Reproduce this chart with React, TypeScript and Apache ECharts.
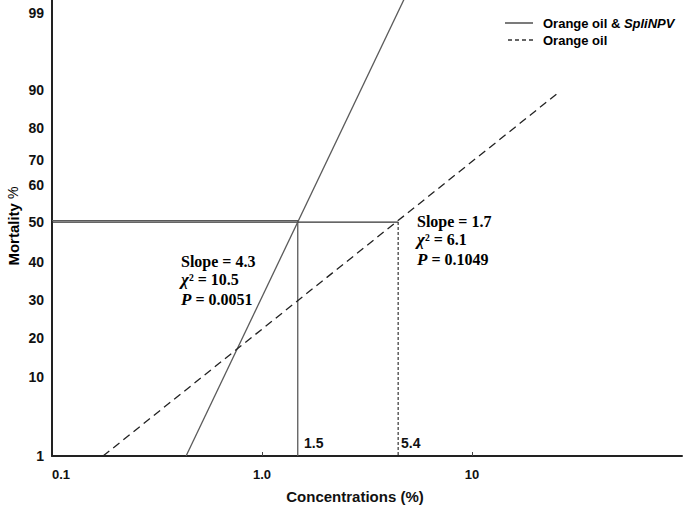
import React, { useEffect, useRef } from "react";
import * as echarts from "echarts";

// Mortality tick labels and their place on the reference's probit-like axis (fraction of axis height)
const mortalityTicks = [1, 10, 20, 30, 40, 50, 60, 70, 80, 90, 99];
const mortalityScale = [0, 0.173, 0.259, 0.342, 0.425, 0.513, 0.594, 0.649, 0.719, 0.803, 0.971];

// Concentration axis ticks
const concTicks = [0.1, 1, 10];
const concTickLabels = ["0.1", "1.0", "10"];

// Regression lines (concentration %, mortality %)
const comboConc = [0.435, 4.74];
const comboMort = [1, 100.6];
const oilConc = [0.175, 25.7];
const oilMort = [1, 89.2];

// LC50 drop lines
const lc50Conc = [1.48, 4.45];
const lc50Labels = ["1.5", "5.4"];

// Statistics
const comboStats = { slope: "4.3", chi2: "10.5", p: "0.0051" };
const oilStats = { slope: "1.7", chi2: "6.1", p: "0.1049" };

const seriesNames = ["Orange oil & SpliNPV", "Orange oil"];

function toScale(m: number): number {
  const t = mortalityTicks;
  const s = mortalityScale;
  let i = 0;
  if (m <= t[0]) i = 0;
  else if (m >= t[t.length - 1]) i = t.length - 2;
  else {
    while (i < t.length - 2 && m > t[i + 1]) i++;
  }
  const f = (m - t[i]) / (t[i + 1] - t[i]);
  return s[i] + f * (s[i + 1] - s[i]);
}

function fromScale(v: number): string {
  let best = 0;
  let bd = Infinity;
  mortalityScale.forEach((s, i) => {
    const d = Math.abs(s - v);
    if (d < bd) {
      bd = d;
      best = i;
    }
  });
  return String(mortalityTicks[best]);
}

const pts = (xs: number[], ms: number[]) => xs.map((x, i) => [x, toScale(ms[i])]);

const serifFont = "'Liberation Serif', 'DejaVu Serif', serif";
const sansFont = "'Liberation Sans', Arial, sans-serif";

function statBlock(st: { slope: string; chi2: string; p: string }, x: number, y: number) {
  const rich = {
    n: { fontFamily: serifFont, fontWeight: "bold", fontSize: 16, color: "#111" },
    i: { fontFamily: serifFont, fontWeight: "bold", fontStyle: "italic", fontSize: 17, color: "#111" },
  };
  return [
    { type: "text", x, y, style: { text: `{n|Slope = ${st.slope}}`, rich, verticalAlign: "middle" } },
    { type: "text", x, y: y + 18, style: { text: `{i|χ}{n|² = ${st.chi2}}`, rich, verticalAlign: "middle" } },
    { type: "text", x, y: y + 38, style: { text: `{i|P}{n| = ${st.p}}`, rich, verticalAlign: "middle" } },
  ];
}

export default function App() {
  const ref = useRef<HTMLDivElement>(null);
  useEffect(() => {
    if (!ref.current) return;
    const chart = echarts.init(ref.current, undefined, { renderer: "svg" });
    const lineGrey = "#5a5a5a";
    const legendRich = {
      b: { fontFamily: sansFont, fontWeight: "bold", fontSize: 13, color: "#111" },
      i: { fontFamily: sansFont, fontWeight: "bold", fontStyle: "italic", fontSize: 13, color: "#111" },
    };
    const option: any = {
      animation: false,
      backgroundColor: "#fff",
      grid: { left: 52, right: 3, top: 0, bottom: 50, containLabel: false, outerBoundsMode: "none" },
      xAxis: {
        type: "log",
        logBase: 10,
        min: 0.1,
        max: 100,
        name: "Concentrations (%)",
        nameLocation: "middle",
        nameGap: 33,
        nameTextStyle: {
          fontFamily: sansFont,
          fontWeight: "bold",
          fontSize: 15,
          color: "#111",
          padding: [0, 24, 0, 0],
        },
        axisLine: { show: true, lineStyle: { color: "#222", width: 2 } },
        axisTick: { show: true, inside: true, length: 4, customValues: [1, 10], lineStyle: { color: "#444", width: 1 } },
        axisLabel: {
          customValues: concTicks,
          alignMinLabel: "left",
          margin: 12,
          fontFamily: sansFont,
          fontWeight: "bold",
          fontSize: 13,
          color: "#111",
          formatter: (v: number) => {
            const i = concTicks.findIndex((c) => Math.abs(Math.log10(c) - Math.log10(v)) < 1e-6);
            return i >= 0 ? concTickLabels[i] : "";
          },
        },
        splitLine: { show: false },
        minorTick: { show: false },
      },
      yAxis: {
        type: "value",
        min: 0,
        max: 1,
        axisLine: { show: true, lineStyle: { color: "#222", width: 2 } },
        axisTick: { show: false },
        splitLine: { show: false },
        axisLabel: {
          customValues: mortalityScale,
          margin: 8,
          fontFamily: sansFont,
          fontWeight: "bold",
          fontSize: 14,
          color: "#111",
          formatter: (v: number) => fromScale(v),
        },
      },
      series: [
        {
          name: seriesNames[0],
          type: "line",
          symbol: "none",
          clip: true,
          data: pts(comboConc, comboMort),
          lineStyle: { color: lineGrey, width: 1.3, type: "solid" },
          z: 3,
        },
        {
          name: seriesNames[1],
          type: "line",
          symbol: "none",
          clip: true,
          data: pts(oilConc, oilMort),
          lineStyle: { color: "#222", width: 1.3, type: [8, 5] },
          z: 3,
        },
        {
          name: "lc50-combo",
          type: "line",
          symbol: "none",
          data: [
            [0.1, toScale(50.4)],
            [lc50Conc[0], toScale(50.4)],
            [lc50Conc[0], toScale(50)],
            [lc50Conc[0], toScale(1)],
          ],
          lineStyle: { color: lineGrey, width: 1.3 },
          z: 2,
        },
        {
          name: "lc50-oil-h",
          type: "line",
          symbol: "none",
          data: [
            [0.1, toScale(50)],
            [lc50Conc[1], toScale(50)],
          ],
          lineStyle: { color: "#333", width: 1.2 },
          z: 2,
        },
        {
          name: "lc50-oil-v",
          type: "line",
          symbol: "none",
          data: [
            [lc50Conc[1], toScale(50)],
            [lc50Conc[1], toScale(1)],
          ],
          lineStyle: { color: "#333", width: 1.2, type: [3, 2] },
          z: 2,
        },
      ],
      graphic: [
        // y-axis title
        {
          type: "text",
          x: 13,
          y: 226,
          rotation: Math.PI / 2,
          style: {
            text: "{b|Mortality }{r|%}",
            align: "center",
            verticalAlign: "middle",
            rich: {
              b: { fontFamily: sansFont, fontWeight: "bold", fontSize: 15, color: "#111" },
              r: { fontFamily: sansFont, fontWeight: "normal", fontSize: 14, color: "#222" },
            },
          },
        },
        ...statBlock(comboStats, 181, 261),
        ...statBlock(oilStats, 417, 221),
        {
          type: "text",
          x: 304,
          y: 443,
          style: {
            text: lc50Labels[0],
            fontFamily: sansFont,
            fontWeight: "bold",
            fontSize: 14,
            fill: "#111",
            verticalAlign: "middle",
          },
        },
        {
          type: "text",
          x: 401,
          y: 443,
          style: {
            text: lc50Labels[1],
            fontFamily: sansFont,
            fontWeight: "bold",
            fontSize: 14,
            fill: "#111",
            verticalAlign: "middle",
          },
        },
        // legend
        {
          type: "line",
          shape: { x1: 505, y1: 23, x2: 533, y2: 23 },
          style: { stroke: "#333", lineWidth: 1.3 },
        },
        {
          type: "line",
          shape: { x1: 508, y1: 40, x2: 533, y2: 40 },
          style: { stroke: "#333", lineWidth: 1.3, lineDash: [4, 3] },
        },
        {
          type: "text",
          x: 543,
          y: 23,
          style: { text: "{b|Orange oil & }{i|SpliNPV}", rich: legendRich, verticalAlign: "middle" },
        },
        {
          type: "text",
          x: 543,
          y: 40,
          style: { text: `{b|${seriesNames[1]}}`, rich: legendRich, verticalAlign: "middle" },
        },
      ],
    };
    chart.setOption(option);
    return () => chart.dispose();
  }, []);
  return (
    <div
      ref={ref}
      style={{ position: "fixed", left: 0, top: 0, width: 685, height: 506, background: "#fff" }}
    />
  );
}
